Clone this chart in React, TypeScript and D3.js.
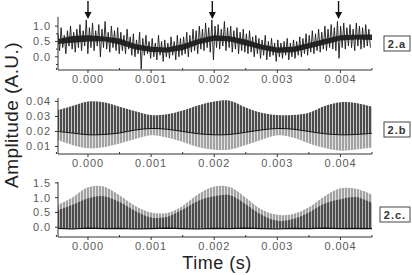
import React from "react";
import * as d3 from "d3";

// ---------- data ----------
const T_START = -0.000475;
const T_END = 0.0045;
const xTicksMajor = [0, 0.001, 0.002, 0.003, 0.004];
const xTicksMinor = [-0.0005, 0.0005, 0.0015, 0.0025, 0.0035, 0.0045];
const arrowTimes = [0, 0.00197, 0.00397];

// Panel 2.a : noisy signal, local maxima / minima of each oscillation
const aHigh = [
  0.75, 0.95, 0.7, 0.85, 1.0, 0.8, 0.9, 1.05, 0.85, 1.2,
  0.95, 1.1, 0.85, 1.05, 0.9, 1.15, 0.8, 1.0, 0.85, 0.95,
  0.8, 0.7, 0.9, 0.65, 0.75, 0.55, 0.8, 0.6, 0.7, 0.5,
  0.6, 0.45, 0.7, 0.5, 0.55, 0.45, 0.65, 0.5, 0.7, 0.6,
  0.65, 0.8, 0.7, 0.9, 0.85, 1.0, 0.9, 1.1, 0.95, 1.2,
  1.0, 1.05, 0.9, 1.15, 0.95, 1.0, 0.85, 0.95, 0.8, 0.9,
  0.75, 0.85, 0.65, 0.7, 0.6, 0.55, 0.7, 0.5, 0.6, 0.45,
  0.55, 0.45, 0.5, 0.6, 0.45, 0.55, 0.5, 0.65, 0.6, 0.75,
  0.7, 0.85, 0.75, 0.9, 0.8, 1.0, 0.9, 1.05, 0.95, 1.15,
  1.0, 1.1, 0.95, 1.05, 0.9, 1.1, 1.0, 0.95, 1.05, 0.9,
];
const aLow = [
  0.2, 0.3, 0.1, 0.35, 0.25, 0.15, 0.3, 0.2, 0.35, 0.1,
  0.3, 0.2, 0.35, 0.0, 0.3, 0.25, 0.15, 0.3, 0.2, 0.1,
  0.2, 0.1, 0.25, 0.05, 0.0, 0.1, -0.4, 0.05, 0.1, -0.05,
  0.0, -0.1, 0.05, -0.15, 0.0, -0.05, 0.05, -0.1, 0.0, 0.05,
  0.1, 0.0, 0.15, 0.2, 0.1, 0.25, 0.2, 0.3, 0.15, -0.1,
  0.3, 0.25, 0.35, 0.2, 0.3, 0.15, 0.25, 0.1, 0.2, 0.15,
  0.1, 0.15, 0.0, 0.1, -0.05, 0.05, -0.1, 0.0, 0.05, -0.15,
  0.0, -0.05, 0.05, -0.1, 0.0, -0.05, 0.05, 0.0, 0.1, 0.05,
  0.15, 0.1, 0.2, 0.15, 0.25, 0.2, 0.3, 0.25, 0.2, -0.05,
  0.3, 0.25, 0.35, 0.3, 0.2, 0.35, 0.25, 0.3, 0.35, 0.3,
];

// Envelope sample times for the dense bands
const envTimes = [
  -0.000475, -0.00025, 0, 0.00025, 0.0005, 0.00075, 0.001, 0.00125, 0.0015, 0.00175,
  0.002, 0.00225, 0.0025, 0.00275, 0.003, 0.00325, 0.0035, 0.00375, 0.004, 0.00425, 0.0045,
];
// Panel 2.a dense core band
const aCoreTop = [
  0.58, 0.68, 0.7, 0.66, 0.6, 0.42, 0.33, 0.3, 0.41, 0.58,
  0.7, 0.67, 0.56, 0.4, 0.3, 0.33, 0.45, 0.58, 0.7, 0.72, 0.73,
];
const aCoreBot = [
  0.42, 0.46, 0.5, 0.51, 0.4, 0.24, 0.16, 0.14, 0.21, 0.41,
  0.52, 0.5, 0.37, 0.24, 0.13, 0.15, 0.27, 0.4, 0.53, 0.56, 0.55,
];
// Panel 2.b
const bUpper = [
  0.0343, 0.037, 0.040, 0.0395, 0.0365, 0.0335, 0.031, 0.0315, 0.034, 0.0375,
  0.040, 0.0405, 0.036, 0.0325, 0.031, 0.031, 0.0325, 0.037, 0.0395, 0.039, 0.0365,
];
const bMid = [
  0.020, 0.019, 0.0178, 0.018, 0.019, 0.021, 0.022, 0.0215, 0.020, 0.0185,
  0.0178, 0.018, 0.0195, 0.021, 0.022, 0.0215, 0.020, 0.0185, 0.0178, 0.018, 0.0188,
];
const bLower = [
  0.0143, 0.011, 0.0088, 0.0095, 0.012, 0.015, 0.0175, 0.016, 0.013, 0.0095,
  0.0078, 0.008, 0.011, 0.0145, 0.0175, 0.016, 0.012, 0.009, 0.0072, 0.008, 0.0093,
];
// Panel 2.c
const cUpper = [
  0.76, 1.0, 1.35, 1.38, 1.08, 0.72, 0.5, 0.48, 0.72, 1.12,
  1.38, 1.36, 1.0, 0.6, 0.42, 0.45, 0.68, 1.05, 1.32, 1.3, 1.1,
];
const cDark = [
  0.58, 0.75, 0.98, 1.05, 0.85, 0.55, 0.33, 0.35, 0.6, 0.9,
  1.05, 1.08, 0.78, 0.42, 0.22, 0.28, 0.5, 0.8, 0.95, 1.02, 0.82,
];
const cBase = [
  -0.04, -0.06, -0.03, -0.05, -0.04, -0.06, -0.05, -0.03, -0.05, -0.06,
  -0.04, -0.05, -0.03, -0.05, -0.06, -0.04, -0.05, -0.03, -0.05, -0.04, -0.05,
];

const aYTicks = [0, 0.5, 1.0];
const aYMinor = [-0.25, 0.25, 0.75];
const bYTicks = [0.01, 0.02, 0.03, 0.04];
const cYTicks = [0, 0.5, 1.0, 1.5];
const panelLabels = ["2.a", "2.b", "2.c."];

// ---------- layout ----------
const W = 412;
const H = 275;
const X0 = 58;
const X1 = 372;

const x = d3.scaleLinear().domain([T_START, T_END]).range([X0, X1]);
const yA = d3.scaleLinear().domain([-0.43, 1.3]).range([70, 16.9]);
const yB = d3.scaleLinear().domain([0.005, 0.0423]).range([154, 98]);
const yC = d3.scaleLinear().domain([-0.33, 1.53]).range([237, 182]);

const FONT = "'Liberation Sans', Arial, sans-serif";
const AXC = "#333";
const TICKC = "#5a5a5a";

function XAxis({ y }: { y: number }) {
  return (
    <g>
      <line x1={X0} x2={X1} y1={y} y2={y} stroke={AXC} strokeWidth={1} />
      {xTicksMajor.map((t) => (
        <g key={"M" + t}>
          <line x1={x(t)} x2={x(t)} y1={y} y2={y + 3} stroke={AXC} />
          <text
            x={x(t)}
            y={y + 13}
            textAnchor="middle"
            fontSize={11}
            letterSpacing={0.9}
            fill={TICKC}
            fontFamily={FONT}
          >
            {d3.format(".3f")(t)}
          </text>
        </g>
      ))}
      {xTicksMinor.map((t) => (
        <line key={"m" + t} x1={x(t)} x2={x(t)} y1={y} y2={y - 2} stroke={AXC} />
      ))}
    </g>
  );
}

function YAxis({
  scale,
  ticks,
  minor,
  fmt,
}: {
  scale: d3.ScaleLinear<number, number>;
  ticks: number[];
  minor: number[];
  fmt: string;
}) {
  const [r0, r1] = scale.range();
  return (
    <g>
      <line x1={X0} x2={X0} y1={r1} y2={r0} stroke={AXC} strokeWidth={1} />
      {ticks.map((v) => (
        <g key={"t" + v}>
          <line x1={X0 - 3} x2={X0} y1={scale(v)} y2={scale(v)} stroke={AXC} />
          <text
            x={X0 - 7}
            y={scale(v)}
            dy="0.36em"
            textAnchor="end"
            fontSize={11}
            letterSpacing={0.9}
            fill={TICKC}
            fontFamily={FONT}
          >
            {d3.format(fmt)(v)}
          </text>
        </g>
      ))}
      {minor.map((v) => (
        <line key={"n" + v} x1={X0 - 2} x2={X0} y1={scale(v)} y2={scale(v)} stroke={AXC} />
      ))}
    </g>
  );
}

function Tag({ label, x0, y0, w }: { label: string; x0: number; y0: number; w: number }) {
  return (
    <g>
      <rect x={x0} y={y0} width={w} height={15} fill="white" stroke="#444" strokeWidth={1} />
      <text
        x={x0 + w / 2}
        y={y0 + 11.5}
        textAnchor="middle"
        fontSize={11}
        fontWeight="bold"
        letterSpacing={1}
        fill="#333"
        fontFamily={FONT}
      >
        {label}
      </text>
    </g>
  );
}

export default function App() {
  const dt = (T_END - T_START) / aHigh.length;
  const aPts: [number, number][] = [];
  aHigh.forEach((h, i) => {
    aPts.push([T_START + i * dt, h]);
    aPts.push([T_START + (i + 0.5) * dt, aLow[i]]);
  });
  const aLine = d3
    .line<[number, number]>()
    .x((d) => x(d[0]))
    .y((d) => yA(d[1]));

  const idx = envTimes.map((_, i) => i);
  const curve = d3.curveCatmullRom;
  const aCore = d3
    .area<number>()
    .x((i) => x(envTimes[i]))
    .y0((i) => yA(aCoreBot[i]))
    .y1((i) => yA(aCoreTop[i]));
  const bDarkArea = d3
    .area<number>()
    .x((i) => x(envTimes[i]))
    .y0((i) => yB(bMid[i]))
    .y1((i) => yB(bUpper[i]))
    .curve(curve);
  const bLightArea = d3
    .area<number>()
    .x((i) => x(envTimes[i]))
    .y0((i) => yB(bLower[i]))
    .y1((i) => yB(bMid[i]))
    .curve(curve);
  const bMidLine = d3
    .line<number>()
    .x((i) => x(envTimes[i]))
    .y((i) => yB(bMid[i]))
    .curve(curve);

  const cLightArea = d3
    .area<number>()
    .x((i) => x(envTimes[i]))
    .y0((i) => yC(cBase[i]))
    .y1((i) => yC(cUpper[i]))
    .curve(curve);
  const cDarkArea = d3
    .area<number>()
    .x((i) => x(envTimes[i]))
    .y0((i) => yC(cBase[i]))
    .y1((i) => yC(cDark[i]))
    .curve(curve);
  const cBaseLine = d3
    .line<number>()
    .x((i) => x(envTimes[i]))
    .y((i) => yC(cBase[i]));

  return (
    <svg
      width={W}
      height={H}
      style={{ position: "absolute", left: 0, top: 0, background: "white" }}
    >
      <defs>
        <pattern id="stDark" width={3} height={6} patternUnits="userSpaceOnUse">
          <rect x={0} y={0} width={2.3} height={6} fill="#4c4c4c" />
        </pattern>
        <pattern id="stLight" width={3} height={6} patternUnits="userSpaceOnUse">
          <rect x={0} y={0} width={2.3} height={6} fill="#a2a2a2" />
        </pattern>
      </defs>
      <rect width={W} height={H} fill="white" />

      {/* Panel 2.a */}
      <path d={aLine(aPts) || ""} fill="none" stroke="#1a1a1a" strokeWidth={0.9} />
      <path d={aCore(idx) || ""} fill="#1a1a1a" opacity={0.9} />
      {arrowTimes.map((t) => (
        <g key={"ar" + t}>
          <line x1={x(t)} x2={x(t)} y1={1} y2={13} stroke="#111" strokeWidth={1.4} />
          <path
            d={`M${x(t) - 3.5},${12} L${x(t) + 3.5},${12} L${x(t)},${19} Z`}
            fill="#111"
          />
        </g>
      ))}
      <XAxis y={70} />
      <YAxis scale={yA} ticks={aYTicks} minor={aYMinor} fmt=".1f" />

      {/* Panel 2.b */}
      <path d={bLightArea(idx) || ""} fill="url(#stLight)" />
      <path d={bDarkArea(idx) || ""} fill="url(#stDark)" />
      <path d={bMidLine(idx) || ""} fill="none" stroke="#111" strokeWidth={1} />
      <XAxis y={154} />
      <YAxis scale={yB} ticks={bYTicks} minor={[]} fmt=".2f" />

      {/* Panel 2.c */}
      <path d={cLightArea(idx) || ""} fill="url(#stLight)" />
      <path d={cDarkArea(idx) || ""} fill="url(#stDark)" />
      <path d={cBaseLine(idx) || ""} fill="none" stroke="#111" strokeWidth={1.2} />
      <XAxis y={237} />
      <YAxis scale={yC} ticks={cYTicks} minor={[]} fmt=".1f" />

      {/* panel tags */}
      <Tag label={panelLabels[0]} x0={384} y0={36} w={26} />
      <Tag label={panelLabels[1]} x0={384} y0={122} w={26} />
      <Tag label={panelLabels[2]} x0={380} y0={207} w={30} />

      {/* axis titles */}
      <text
        x={217}
        y={269}
        textAnchor="middle"
        fontSize={18}
        letterSpacing={0.5}
        fill="#222"
        fontFamily={FONT}
      >
        Time (s)
      </text>
      <text
        transform="translate(18,115) rotate(-90)"
        textAnchor="middle"
        fontSize={19}
        letterSpacing={0.4}
        fill="#222"
        fontFamily={FONT}
      >
        Amplitude (A.U.)
      </text>
    </svg>
  );
}
